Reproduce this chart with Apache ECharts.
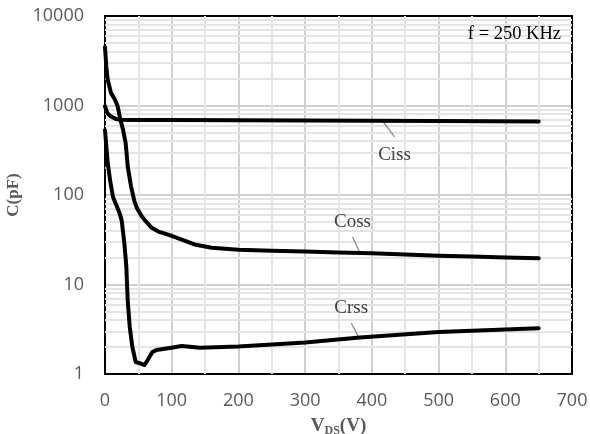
<!DOCTYPE html>
<html>
<head>
<meta charset="utf-8">
<title>Capacitance vs. Drain-Source Voltage</title>
<script src="https://cdn.jsdelivr.net/npm/echarts@6/dist/echarts.min.js"></script>
<style>
  html, body { margin: 0; padding: 0; background: #fff; }
  #chart { width: 590px; height: 434px; }
</style>
</head>
<body>
<div id="chart"></div>
<script>
// Capacitance curves, [V_DS (V), C (pF)]
const cissData = [
  [0, 980], [2, 880], [4, 815], [8, 765], [12, 735], [17, 705], [22, 692],
  [40, 690], [100, 688], [200, 684], [300, 679], [400, 674], [500, 669], [650, 662]
];
const cossData = [
  [0, 4500], [2, 2700], [4, 1950], [9, 1380], [15, 1160], [19, 980], [23, 700],
  [27, 540], [31, 380], [34, 210], [39, 125], [44, 86], [48, 71], [55, 58],
  [62, 50], [70, 43], [80, 39], [90, 37], [104, 34], [119, 31], [134, 28],
  [160, 25.8], [200, 24.5], [250, 23.9], [300, 23.3], [350, 22.8], [400, 22.3],
  [450, 21.6], [500, 21], [550, 20.5], [600, 20], [650, 19.6]
];
const crssData = [
  [0, 530], [4, 230], [8, 140], [12, 95], [18, 74], [22, 62], [25, 52],
  [29, 29], [32, 15.8], [34, 6.7], [37, 3.4], [41, 2.0], [46, 1.36], [52, 1.32],
  [59, 1.26], [64, 1.43], [71, 1.76], [77, 1.85], [97, 1.95], [115, 2.05],
  [131, 2.0], [142, 1.97], [200, 2.03], [300, 2.25], [382, 2.55], [500, 2.95], [650, 3.25]
];

// Axis ranges and labels
const xTicks = [0, 100, 200, 300, 400, 500, 600, 700];
const xMinorLevels = [50, 150, 250, 350, 450, 550, 650];
const yDecades = [1, 10, 100, 1000, 10000];
const yMinorLevels = [];
for (let d = 0; d < yDecades.length - 1; d++) {
  for (let m = 2; m <= 9; m++) yMinorLevels.push(m * yDecades[d]);
}

// Curve callouts: leader line from the curve, then the name text
const callouts = [
  { name: 'Ciss', from: [416, 671], to: [434, 445], text: [434, 280] },
  { name: 'Coss', from: [383, 21.9], to: [371, 34], text: [371, 49.9] },
  { name: 'Crss', from: [381, 2.52], to: [369, 3.71], text: [369, 5.46] }
];
const noteText = 'f = 250 KHz';

const serif = '"Liberation Serif", "Times New Roman", serif';
const sans = '"Open Sans", "Liberation Sans", sans-serif';
const gray = '#595959';
const majorGrid = '#cfcfcf';
const minorGrid = '#e4e4e4';

function frame() {
  return { show: true, onZero: false, lineStyle: { color: '#000', width: 2 } };
}

const chart = echarts.init(document.getElementById('chart'), null, { renderer: 'canvas' });

function curve(name, data, idx) {
  const c = callouts[idx];
  return {
    name: name,
    type: 'line',
    data: data,
    showSymbol: false,
    symbol: 'none',
    smooth: false,
    z: 5,
    lineStyle: { color: '#000', width: 4, cap: 'round', join: 'round' },
    markLine: {
      silent: true,
      symbol: 'none',
      label: { show: false },
      lineStyle: { color: '#8c8c8c', width: 1.3, type: 'solid' },
      data: [[{ coord: c.from }, { coord: c.to }]]
    }
  };
}

const option = {
  animation: false,
  backgroundColor: '#fff',
  grid: {
    left: 105, right: 18, top: 16, bottom: 60,
    outerBoundsMode: 'none',
    containLabel: false
  },
  xAxis: [{
    type: 'value',
    min: xTicks[0], max: xTicks[xTicks.length - 1], interval: 100,
    axisLine: frame(),
    axisTick: { show: false },
    axisLabel: { color: gray, fontFamily: sans, fontSize: 18, margin: 18, formatter: v => String(v) },
    splitLine: { show: true, lineStyle: { color: majorGrid, width: 2 } },
    name: '{v|V}{s|DS}{v|(V)}',
    nameLocation: 'middle',
    nameGap: 35,
    nameTextStyle: {
      rich: {
        v: { fontFamily: serif, fontWeight: 'bold', fontSize: 19, color: gray, lineHeight: 22 },
        s: { fontFamily: serif, fontWeight: 'bold', fontSize: 12, color: gray, padding: [10, 0, 0, 0], lineHeight: 22 }
      }
    }
  }, {
    type: 'value', position: 'top',
    min: xTicks[0], max: xTicks[xTicks.length - 1], interval: 100,
    axisLine: frame(), axisTick: { show: false }, axisLabel: { show: false }, splitLine: { show: false }
  }],
  yAxis: [{
    type: 'log',
    logBase: 10,
    min: yDecades[0], max: yDecades[yDecades.length - 1],
    axisLine: frame(),
    axisTick: { show: false },
    axisLabel: { color: gray, fontFamily: sans, fontSize: 18, margin: 21, formatter: v => String(v) },
    splitLine: { show: true, lineStyle: { color: majorGrid, width: 2 } },
    name: 'C(pF)',
    nameLocation: 'middle',
    nameRotate: 90,
    nameGap: 80,
    nameTextStyle: { fontFamily: serif, fontWeight: 'bold', fontSize: 17, color: gray }
  }, {
    type: 'log', logBase: 10, position: 'right',
    min: yDecades[0], max: yDecades[yDecades.length - 1],
    axisLine: frame(), axisTick: { show: false }, axisLabel: { show: false }, splitLine: { show: false }
  }],
  series: [
    {
      // light sub-grid: 50 V steps and 2..9 within each decade
      type: 'line',
      data: cissData,
      silent: true,
      z: 1,
      symbol: 'none',
      lineStyle: { width: 0, opacity: 0 },
      markLine: {
        silent: true,
        symbol: 'none',
        label: { show: false },
        lineStyle: { color: minorGrid, width: 2, type: 'solid', opacity: 1 },
        data: yMinorLevels.map(v => ({ yAxis: v })).concat(xMinorLevels.map(v => ({ xAxis: v })))
      }
    },
    curve('Ciss', cissData, 0),
    curve('Coss', cossData, 1),
    curve('Crss', crssData, 2)
  ]
};

chart.setOption(option);

// Curve names and the test-frequency note
const graphics = callouts.map(c => {
  const p = chart.convertToPixel({ gridIndex: 0 }, c.text);
  return {
    type: 'text',
    x: p[0], y: p[1],
    z: 10,
    style: {
      text: c.name, fontFamily: serif, fontSize: 19, fill: '#404040',
      align: 'center', verticalAlign: 'middle'
    }
  };
});
graphics.push({
  type: 'text',
  right: 29, top: 25,
  z: 10,
  style: { text: noteText, fontFamily: serif, fontSize: 18.5, fill: '#000' }
});
chart.setOption({ graphic: graphics });
</script>
</body>
</html>
